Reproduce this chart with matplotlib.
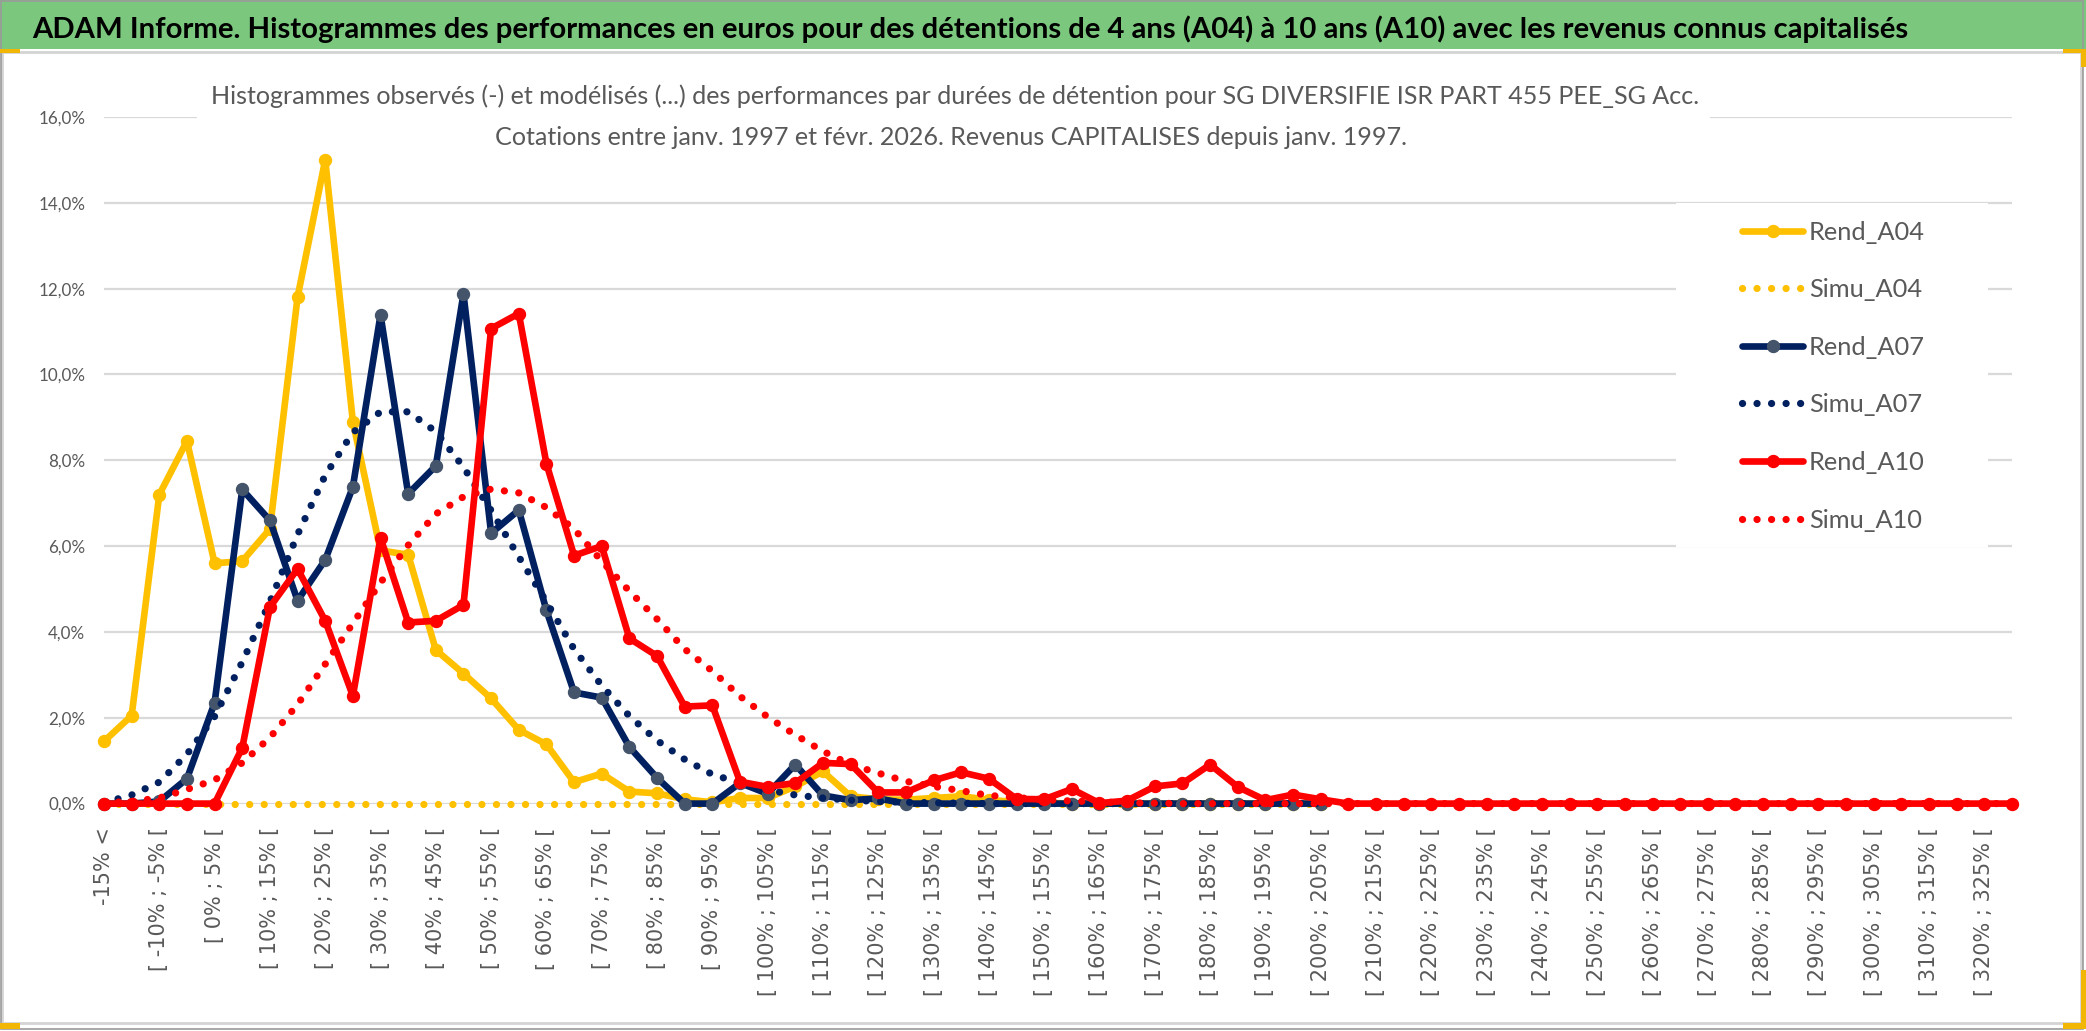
import matplotlib
matplotlib.use("Agg")
import matplotlib.pyplot as plt
from matplotlib.patches import Rectangle

# === Data (values in %) ===
bin_low = list(range(-15, 330, 5))
categories = ["-15% <"] + [f"[ {lo}% ; {lo + 5}% [" for lo in bin_low]

rend_a04 = [1.45, 2.05, 7.2, 8.45, 5.6, 5.65, 6.4, 11.8, 15.0, 8.9,
            5.9, 5.8, 3.58, 3.03, 2.45, 1.72, 1.38, 0.5, 0.7, 0.28,
            0.24, 0.1, 0.03, 0.13, 0.13, 0.4, 0.75, 0.17, 0.1, 0.09,
            0.13, 0.17, 0.09, 0.03, 0.02, 0.0, 0.0, 0.0, 0.0, 0.0,
            0.0, 0.0, 0.0, 0.0, 0.0]
simu_a04 = [0.0, 0.0, 0.0, 0.0, 0.0, 0.0, 0.0, 0.0, 0.0, 0.0,
            0.0, 0.0, 0.0, 0.0, 0.0, 0.0, 0.0, 0.0, 0.0, 0.0,
            0.0, 0.0, 0.0, 0.0, 0.0, 0.0, 0.0, 0.0, 0.0, 0.0,
            0.0, 0.0, 0.0, 0.0, 0.0, 0.0, 0.0, 0.0, 0.0, 0.0,
            0.0, 0.0, 0.0, 0.0, 0.0]
rend_a07 = [0.0, 0.0, 0.05, 0.58, 2.35, 7.32, 6.6, 4.73, 5.68, 7.38,
            11.39, 7.22, 7.87, 11.88, 6.3, 6.84, 4.5, 2.59, 2.47, 1.32,
            0.6, 0.0, 0.0, 0.48, 0.23, 0.91, 0.19, 0.08, 0.12, 0.0,
            0.0, 0.0, 0.0, 0.0, 0.0, 0.0, 0.0, 0.0, 0.0, 0.0,
            0.0, 0.0, 0.0, 0.0, 0.0]
simu_a07 = [0.02, 0.2, 0.5, 1.15, 2.03, 3.3, 4.7, 6.27, 7.65, 8.65,
            9.13, 9.13, 8.67, 7.84, 6.83, 5.75, 4.7, 3.6, 2.75, 2.04,
            1.47, 1.03, 0.68, 0.48, 0.32, 0.2, 0.13, 0.08, 0.05, 0.03,
            0.02, 0.01, 0.0, 0.0, 0.0, 0.0, 0.0, 0.0, 0.0, 0.0,
            0.0, 0.0, 0.0, 0.0, 0.0]
rend_a10 = [0.0, 0.0, 0.0, 0.0, 0.0, 1.3, 4.58, 5.47, 4.26, 2.51,
            6.19, 4.22, 4.26, 4.63, 11.07, 11.42, 7.92, 5.78, 6.0, 3.85,
            3.44, 2.26, 2.29, 0.51, 0.39, 0.48, 0.95, 0.92, 0.26, 0.26,
            0.54, 0.73, 0.58, 0.11, 0.1, 0.34, 0.01, 0.07, 0.4, 0.47,
            0.91, 0.39, 0.08, 0.21, 0.1, 0.0, 0.0, 0.0, 0.0, 0.0,
            0.0, 0.0, 0.0, 0.0, 0.0, 0.0, 0.0, 0.0, 0.0, 0.0,
            0.0, 0.0, 0.0, 0.0, 0.0, 0.0, 0.0, 0.0, 0.0, 0.0]
simu_a10 = [0.02, 0.05, 0.13, 0.33, 0.55, 0.95, 1.54, 2.31, 3.25, 4.2,
            5.15, 6.02, 6.75, 7.15, 7.33, 7.24, 6.9, 6.4, 5.65, 4.95,
            4.3, 3.6, 3.09, 2.5, 2.02, 1.6, 1.22, 0.91, 0.71, 0.52,
            0.4, 0.3, 0.19, 0.14, 0.09, 0.06, 0.04, 0.02, 0.01, 0.0,
            0.0, 0.0, 0.0, 0.0, 0.0, 0.0, 0.0, 0.0, 0.0, 0.0,
            0.0, 0.0, 0.0, 0.0, 0.0, 0.0, 0.0, 0.0, 0.0, 0.0,
            0.0, 0.0, 0.0, 0.0, 0.0, 0.0, 0.0, 0.0, 0.0, 0.0]

y_ticks = [0, 2, 4, 6, 8, 10, 12, 14, 16]
y_labels = [f"{v},0%" for v in y_ticks]

title = ("ADAM Informe. Histogrammes des performances en euros pour des détentions "
         "de 4 ans (A04) à 10 ans (A10) avec les revenus connus capitalisés")
sub1 = ("Histogrammes observés (-) et modélisés (...) des performances par durées "
        "de détention pour SG DIVERSIFIE ISR PART 455 PEE_SG Acc.")
sub2 = "Cotations entre janv. 1997 et févr. 2026. Revenus CAPITALISES depuis janv. 1997."

# === Style ===
YELLOW = "#FFC000"
NAVY = "#002060"
NAVY_MK = "#44546A"
RED = "#FF0000"
GREY_TXT = "#595959"
GRID = "#D9D9D9"
NARROW = ["Lato", "DejaVu Sans"]

W, H = 2086, 1031
fig = plt.figure(figsize=(W / 100, H / 100), dpi=100)
renderer = fig.canvas.get_renderer()


def fx(px):
    return px / W


def fy(py):
    return 1 - py / H


def size_for(text, target_px, family, weight="normal", base=20.0):
    t = fig.text(0, 0, text, fontsize=base, family=family, weight=weight)
    w = t.get_window_extent(renderer).width
    t.remove()
    return base * target_px / w


def fig_rect(x0, y0, x1, y1, **kw):
    return Rectangle((fx(x0), fy(y1)), (x1 - x0) / W, (y1 - y0) / H,
                     transform=fig.transFigure, **kw)


# === Frame, green title bar ===
fig.add_artist(fig_rect(0, 0, 2086, 49, facecolor="#7CC77E", edgecolor="none", zorder=0))
fig.add_artist(fig_rect(1, 1, 2083, 1029, facecolor="none", edgecolor="#9A9A9A", lw=1.2, zorder=0.2))
fig.add_artist(fig_rect(2, 52, 2081, 1023, facecolor="none", edgecolor="#D4D4D4", lw=2.0, zorder=0.1))
for x0, y0, x1, y1 in [(0, 49, 20, 53), (2063, 49, 2086, 53), (2081, 49, 2086, 67),
                       (2081, 970, 2086, 1029), (2063, 1023, 2086, 1029), (0, 1023, 20, 1029)]:
    fig.add_artist(fig_rect(x0, y0, x1, y1, facecolor="#F2B705", edgecolor="none", zorder=0.3))

fs_title = size_for(title, 1875, NARROW, "bold")
fig.text(fx(970), fy(29), title, ha="center", va="center", fontsize=fs_title,
         fontweight="bold", color="black", family=NARROW)

# === Axes ===
ax = fig.add_axes([fx(104), fy(803.6), (2012 - 104) / W, (803.6 - 117) / H])
ax.set_xlim(0, len(categories) - 1)
ax.set_ylim(0, 16)
for s in ax.spines.values():
    s.set_visible(False)
ax.set_axisbelow(True)

ax.set_yticks(y_ticks)
fs_y = size_for("16,0%", 47, NARROW)
ax.set_yticklabels(y_labels, fontsize=fs_y, color=GREY_TXT, family=NARROW)
ax.tick_params(axis="y", length=0, pad=13.5)
ax.grid(axis="y", color=GRID, lw=1.6)

ax.set_xticks(range(0, len(categories), 2))
ax.set_xticklabels(categories[::2], rotation=90, fontsize=15, color=GREY_TXT,
                   family="DejaVu Sans", va="top", ha="center")
ax.set_xticks(range(0, len(categories), 4), minor=True)
ax.tick_params(axis="x", which="both", length=0, pad=17)
ax.grid(axis="x", which="minor", color=GRID, lw=1.6)

# white boxes of the chart title and of the legend (they hide the grid)
ax.add_patch(fig_rect(197, 100, 1710, 159, facecolor="white", edgecolor="none",
                      zorder=1, clip_on=False))
ax.add_patch(fig_rect(1676, 203, 1988, 547, facecolor="white", edgecolor="none",
                      zorder=1, clip_on=False))

# === Series ===
solid = dict(lw=4.8, marker="o", ms=8.6, clip_on=False,
             solid_joinstyle="round", solid_capstyle="round")
dotted = dict(lw=5.2, linestyle=(0, (0.01, 2.0)), dash_capstyle="round", clip_on=False)

h1, = ax.plot(range(len(rend_a04)), rend_a04, color=YELLOW, mfc=YELLOW, mec=YELLOW,
              label="Rend_A04", zorder=2, **solid)
h2, = ax.plot(range(len(simu_a04)), simu_a04, color=YELLOW, label="Simu_A04", zorder=2.1, **dotted)
h3, = ax.plot(range(len(rend_a07)), rend_a07, color=NAVY, mfc=NAVY_MK, mec=NAVY_MK,
              label="Rend_A07", zorder=2.2, **solid)
h4, = ax.plot(range(len(simu_a07)), simu_a07, color=NAVY, label="Simu_A07", zorder=2.3, **dotted)
h5, = ax.plot(range(len(rend_a10)), rend_a10, color=RED, mfc=RED, mec=RED,
              label="Rend_A10", zorder=2.4, **solid)
h6, = ax.plot(range(len(simu_a10)), simu_a10, color=RED, label="Simu_A10", zorder=2.5, **dotted)

# === Legend ===
fs_leg = size_for("Rend_A04", 116, NARROW)
fs_px = fs_leg * 100 / 72
t = fig.text(0, 0, "Rend_A04", fontsize=fs_leg, family=NARROW)
row_h = t.get_window_extent(renderer).height
t.remove()
leg = ax.legend([h1, h2, h3, h4, h5, h6],
                ["Rend_A04", "Simu_A04", "Rend_A07", "Simu_A07", "Rend_A10", "Simu_A10"],
                loc="upper left", bbox_to_anchor=(fx(1742), fy(232 - row_h / 2)),
                bbox_transform=fig.transFigure, frameon=False,
                prop={"family": NARROW, "size": fs_leg}, labelcolor=GREY_TXT,
                handlelength=61 / fs_px, handletextpad=6 / fs_px,
                labelspacing=(57.6 - row_h) / fs_px, borderpad=0, borderaxespad=0)
leg.set_zorder(5)

# === Chart title ===
fs_sub = size_for(sub1, 1494, NARROW)
fig.text(fx(955), fy(104), sub1, ha="center", va="baseline", fontsize=fs_sub,
         color=GREY_TXT, family=NARROW, zorder=4)
fig.text(fx(951), fy(145), sub2, ha="center", va="baseline", fontsize=fs_sub,
         color=GREY_TXT, family=NARROW, zorder=4)

fig.savefig("out.png", dpi=100, facecolor="white")
